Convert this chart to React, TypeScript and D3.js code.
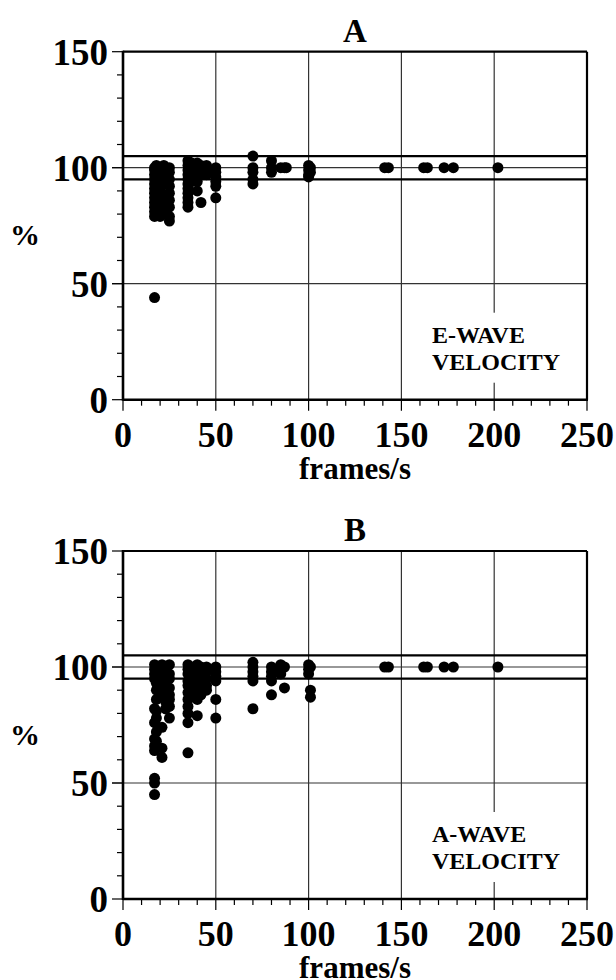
import React from "react";
import * as d3 from "d3";

// ---- Data (frames/s groups and % values) ----
const eFps = [17, 18, 20, 22, 25, 35, 37, 40, 42, 45, 50, 70, 80, 85, 87, 88, 100, 101, 141, 143, 162, 164, 173, 178, 202];
const ePct: number[][] = [
  [100, 99, 97, 95, 93, 91, 89, 87, 85, 83, 81, 79, 44],
  [101, 98, 96, 92, 90, 88, 84, 80],
  [100, 97, 94, 90, 86, 82, 79],
  [101, 99, 96, 93, 88, 85, 80],
  [100, 98, 95, 92, 89, 86, 83, 79, 77],
  [103, 101, 99, 97, 95, 93, 91, 89, 87, 85, 83],
  [102, 100, 98, 96, 94],
  [102, 100, 98, 96, 94, 90],
  [101, 99, 97, 85],
  [101, 99, 97],
  [100, 98, 96, 94, 92, 87],
  [105, 100, 98, 95, 93],
  [103, 100, 98],
  [100],
  [100],
  [100],
  [101, 99, 97, 96],
  [100, 98],
  [100],
  [100],
  [100],
  [100],
  [100],
  [100],
  [100],
];

const aFps = [17, 18, 21, 23, 25, 35, 38, 40, 42, 45, 50, 70, 80, 85, 87, 100, 101, 141, 143, 162, 164, 173, 178, 202];
const aPct: number[][] = [
  [101, 99, 97, 95, 82, 76, 69, 66, 64, 52, 50, 45],
  [100, 98, 96, 93, 90, 86, 81, 78, 72, 68],
  [101, 99, 96, 92, 87, 74, 65, 61],
  [100, 97, 94, 90, 85, 82],
  [101, 97, 95, 91, 88, 86, 83, 78],
  [101, 99, 97, 94, 92, 89, 86, 83, 80, 76, 63],
  [100, 98, 96, 93, 90, 88],
  [101, 98, 95, 92, 89, 86, 79],
  [100, 97, 94, 91, 88],
  [100, 98, 95, 92, 90],
  [100, 98, 96, 94, 86, 78],
  [102, 100, 98, 96, 94, 82],
  [100, 98, 96, 94, 88],
  [101, 99, 97],
  [100, 91],
  [101, 99, 97],
  [100, 90, 87],
  [100],
  [100],
  [100],
  [100],
  [100],
  [100],
  [100],
];

const xTicks = [0, 50, 100, 150, 200, 250];
const yTicks = [0, 50, 100, 150];
const refLines = [95, 105];
const panelTitles = ["A", "B"];
const panelLabels = [["E-WAVE", "VELOCITY"], ["A-WAVE", "VELOCITY"]];
const xLabel = "frames/s";
const yLabel = "%";

const FONT = "'Liberation Serif', 'Times New Roman', serif";

type PanelProps = {
  top: number;
  fps: number[];
  pct: number[][];
  title: string;
  label: string[];
};

function Panel({ top, fps, pct, title, label }: PanelProps) {
  const left = 123;
  const right = 587;
  const plotH = 348;
  const x = d3.scaleLinear().domain([0, 250]).range([left, right]);
  const y = d3.scaleLinear().domain([0, 150]).range([top + plotH, top]);
  const minorX = d3.range(0, 251, 10);
  const minorY = d3.range(0, 151, 10);
  const points: [number, number][] = [];
  fps.forEach((f, i) => pct[i].forEach((p) => points.push([f, p])));
  const boxX0 = 425;
  const boxX1 = 572;
  return (
    <g>
      {xTicks.slice(1, -1).map((t) => (
        <line key={"vg" + t} x1={x(t)} x2={x(t)} y1={y(0)} y2={y(150)} stroke="#333" strokeWidth={1.2} />
      ))}
      {[50, 100].map((t) => (
        <line key={"hg" + t} x1={x(0) - 11} x2={x(250)} y1={y(t)} y2={y(t)} stroke="#333" strokeWidth={1.2} />
      ))}
      {refLines.map((t) => (
        <line key={"rl" + t} x1={x(0)} x2={x(250)} y1={y(t)} y2={y(t)} stroke="#000" strokeWidth={2.2} />
      ))}
      <rect x={boxX0} y={y(150) + 261} width={boxX1 - boxX0} height={70} fill="#fff" />
      <text x={432} y={y(150) + 291} fontFamily={FONT} fontWeight="bold" fontSize={24}>{label[0]}</text>
      <text x={432} y={y(150) + 318} fontFamily={FONT} fontWeight="bold" fontSize={24}>{label[1]}</text>
      {points.map(([f, p], i) => (
        <circle key={"p" + i} cx={x(f)} cy={y(p)} r={5.5} fill="#000" />
      ))}
      <line x1={x(0)} x2={x(250)} y1={y(150)} y2={y(150)} stroke="#000" strokeWidth={2.2} />
      <line x1={x(250)} x2={x(250)} y1={y(0)} y2={y(150)} stroke="#000" strokeWidth={2.2} />
      <line x1={x(0)} x2={x(250) + 1} y1={y(0)} y2={y(0)} stroke="#000" strokeWidth={2.6} />
      <line x1={x(0)} x2={x(0)} y1={y(0) + 1} y2={y(150) - 1} stroke="#000" strokeWidth={2.6} />
      {minorX.map((t) => (
        <line key={"xt" + t} x1={x(t)} x2={x(t)} y1={y(0)} y2={y(0) + (t % 50 === 0 ? 11 : 6)} stroke="#000" strokeWidth={1.2} />
      ))}
      {minorY.map((t) => (
        <line key={"yt" + t} x1={x(0)} x2={x(0) - (t % 50 === 0 ? 11 : 6)} y1={y(t)} y2={y(t)} stroke="#000" strokeWidth={1.2} />
      ))}
      {xTicks.map((t) => (
        <text key={"xl" + t} x={x(t)} y={y(0) + 47} textAnchor="middle" fontFamily={FONT} fontWeight="bold" fontSize={36}>{t}</text>
      ))}
      {yTicks.map((t) => (
        <text key={"yl" + t} x={x(0) - 15} y={y(t) + 13} textAnchor="end" fontFamily={FONT} fontWeight="bold" fontSize={37}>{t}</text>
      ))}
      <text x={(left + right) / 2} y={y(0) + 79} textAnchor="middle" fontFamily={FONT} fontWeight="bold" fontSize={31}>{xLabel}</text>
      <text x={25} y={y(70) + 8} textAnchor="middle" fontFamily={FONT} fontWeight="bold" fontSize={30}>{yLabel}</text>
      <text x={(left + right) / 2} y={top - 10} textAnchor="middle" fontFamily={FONT} fontWeight="bold" fontSize={33}>{title}</text>
    </g>
  );
}

export default function App() {
  return (
    <svg width={616} height={980} style={{ position: "absolute", left: 0, top: 0, background: "#fff" }}>
      <rect x={0} y={0} width={616} height={980} fill="#fff" />
      <Panel top={51.7} fps={eFps} pct={ePct} title={panelTitles[0]} label={panelLabels[0]} />
      <Panel top={551} fps={aFps} pct={aPct} title={panelTitles[1]} label={panelLabels[1]} />
    </svg>
  );
}
